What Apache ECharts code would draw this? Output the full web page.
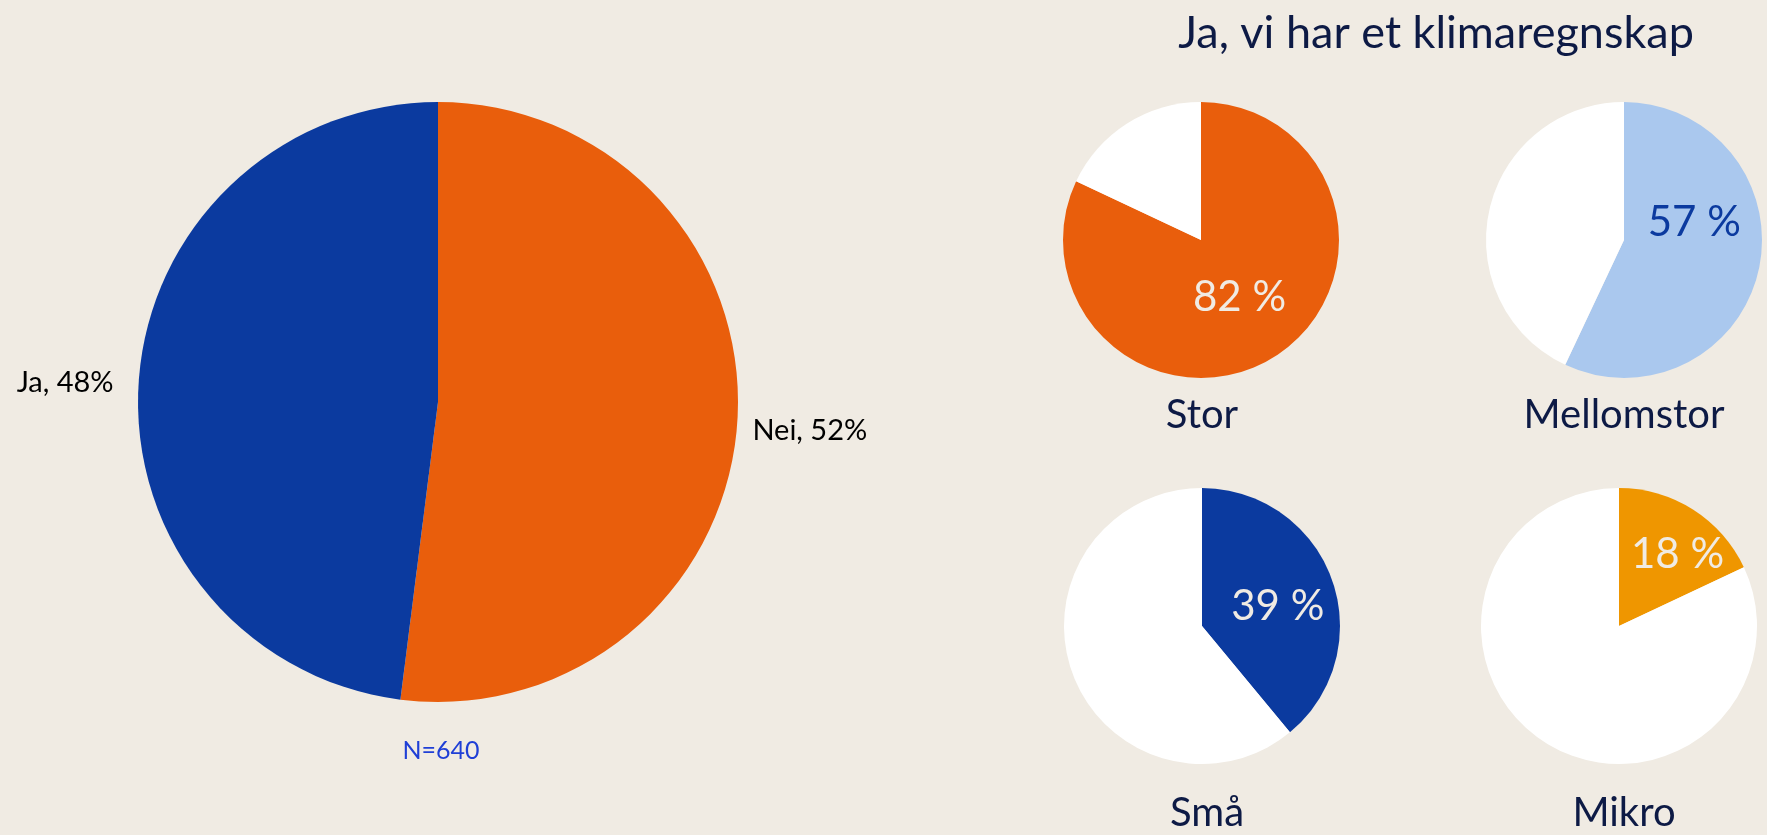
<!DOCTYPE html>
<html>
<head>
<meta charset="utf-8">
<script src="https://cdn.jsdelivr.net/npm/echarts@6/dist/echarts.min.js"></script>
<style>
  html, body { margin: 0; padding: 0; background: #f0ebe3; }
  #chart { width: 1767px; height: 835px; }
</style>
</head>
<body>
<div id="chart"></div>
<script>
// data
const mainNames = ['Nei', 'Ja'];
const mainValues = [52, 48];
const sizeNames = ['Stor', 'Mellomstor', 'Små', 'Mikro'];
const jaShares = [82, 57, 39, 18];
const titleText = 'Ja, vi har et klimaregnskap';
const noteText = 'N=640';

const FONT = 'Lato';
const mainColors = ['#e95e0c', '#0b3a9f'];
const mainOffsets = [[-2, 9], [-8, 0]];
const smallColors = ['#e95e0c', '#aac8ee', '#0b3a9f', '#ef9600'];
const pctColors = ['#f0ebe3', '#0b3a9f', '#f0ebe3', '#f0ebe3'];
const centers = [[1201, 240], [1624, 240], [1202, 626], [1619, 626]];
const pctOffsets = [[0, -3], [0, -33], [8, 5], [20, -11]];
const nameX = [1197, 1619, 1202, 1619];
const nameY = [415, 415, 813, 813];

const chart = echarts.init(document.getElementById('chart'));

const series = [{
    type: 'pie',
    center: [438, 402],
    radius: 300,
    startAngle: 90,
    clockwise: true,
    silent: true,
    data: mainNames.map((n, i) => ({
        name: n, value: mainValues[i],
        itemStyle: { color: mainColors[i] },
        label: { offset: mainOffsets[i] }
    })),
    label: {
        show: true,
        position: 'outside',
        formatter: '{b}, {d}%',
        fontFamily: FONT,
        fontSize: 29,
        color: '#000000'
    },
    labelLine: { show: false, length: 8, length2: 4 }
}];

sizeNames.forEach((s, i) => {
    series.push({
        type: 'pie',
        center: centers[i],
        radius: 138,
        startAngle: 90,
        clockwise: true,
        silent: true,
        data: [
            {
                name: s, value: jaShares[i],
                itemStyle: { color: smallColors[i] },
                label: {
                    show: true, position: 'inside', formatter: '{c} %',
                    fontFamily: FONT, fontSize: 42, color: pctColors[i],
                    offset: pctOffsets[i]
                }
            },
            { name: 'rest', value: 100 - jaShares[i], itemStyle: { color: '#ffffff' }, label: { show: false } }
        ],
        labelLine: { show: false }
    });
});

const titles = [
    { text: titleText, left: 1431, top: 6, textAlign: 'center',
      textStyle: { fontFamily: FONT, fontSize: 45, fontWeight: 'normal', color: '#0d1a45' } },
    { text: noteText, left: 436, top: 733, textAlign: 'center',
      textStyle: { fontFamily: FONT, fontSize: 25, fontWeight: 'normal', color: '#1f3fd6' } }
];
sizeNames.forEach((s, i) => {
    titles.push({ text: s, left: nameX[i], top: nameY[i] - 25, textAlign: 'center',
        textStyle: { fontFamily: FONT, fontSize: 40, fontWeight: 'normal', color: '#0d1a45' } });
});

chart.setOption({
    backgroundColor: '#f0ebe3',
    animation: false,
    title: titles,
    series: series
});
</script>
</body>
</html>
